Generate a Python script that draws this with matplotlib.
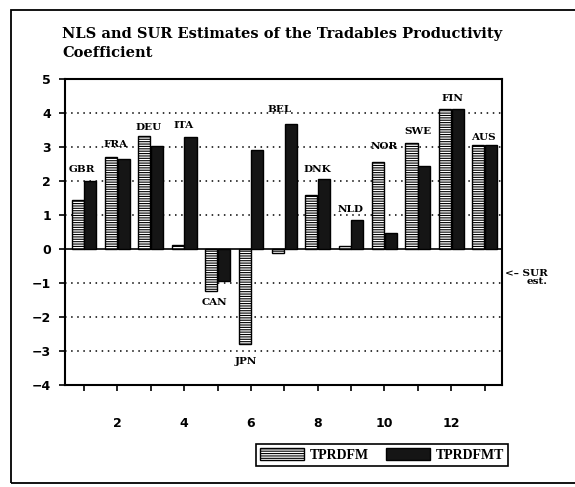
import numpy as np
import matplotlib
matplotlib.use("Agg")
import matplotlib.pyplot as plt
from matplotlib.patches import Patch, Rectangle

# valeurs
countries = ["GBR", "FRA", "DEU", "ITA", "CAN", "JPN", "BEL",
             "DNK", "NLD", "NOR", "SWE", "FIN", "AUS"]
tprdfm = [1.44, 2.73, 3.32, 0.12, -1.23, -2.78, -0.10,
          1.60, 0.10, 2.58, 3.14, 4.12, 3.08]
tprdfmt = [2.02, 2.66, 3.03, 3.29, -0.92, 2.93, 3.69,
           2.06, 0.87, 0.49, 2.46, 4.12, 3.06]
# position (x, y) des étiquettes de pays
label_x = [0.95, 1.93, 2.93, 3.99, 4.92, 5.85, 6.85,
           8.0, 9.0, 9.98, 11.0, 12.04, 12.95]
label_y = [2.35, 3.08, 3.57, 3.64, -1.58, -3.3, 4.1,
           2.35, 1.17, 3.02, 3.46, 4.45, 3.29]

x = np.arange(1, len(countries) + 1)

plt.rcParams['hatch.linewidth'] = 0.8
fig = plt.figure(figsize=(5.75, 4.87), dpi=100)
ax = fig.add_axes([0.113, 0.209, 0.76, 0.628])

w = 0.36
ax.bar(x - 0.19, tprdfm, width=w, facecolor='white', edgecolor='black',
       hatch='-------', linewidth=1, zorder=3)
ax.bar(x + 0.19, tprdfmt, width=w, facecolor='#151515', edgecolor='black',
       linewidth=1, zorder=3)

for yv in [4, 3, 2, 1, -1, -2, -3]:
    ax.axhline(yv, color='black', linestyle=(0, (1, 3)), linewidth=1.1, zorder=1)
ax.axhline(0, color='black', linewidth=1.2, zorder=2)

for c, lx, ly in zip(countries, label_x, label_y):
    ax.text(lx, ly, c, ha='center', va='center', fontsize=7.5,
            fontweight='bold', family='DejaVu Serif', zorder=4)

ax.set_xlim(0.43, 13.52)
ax.set_ylim(-4, 5)
ax.set_yticks(range(-4, 6))
ax.set_yticklabels([str(v).replace('-', '\u2212') for v in range(-4, 6)],
                   fontsize=9, fontweight='bold', family='DejaVu Sans')
ax.set_xticks(range(2, 13, 2))
ax.set_xticks(range(1, 14, 2), minor=True)
ax.set_xticklabels([str(v) for v in range(2, 13, 2)], fontsize=9,
                   fontweight='bold', family='DejaVu Sans')
ax.tick_params(axis='x', which='both', direction='out', length=4, width=1.2, pad=19)
ax.tick_params(axis='y', direction='out', length=4, width=1.2, pad=6)
for s in ax.spines.values():
    s.set_linewidth(1.5)

fig.text(0.108, 0.945, "NLS and SUR Estimates of the Tradables Productivity\nCoefficient",
         ha='left', va='top', fontsize=10.5, fontweight='bold',
         family='DejaVu Serif', linespacing=1.5)

fig.text(0.953, 0.43, "<\u2013 SUR\nest.", ha='right', va='center', fontsize=7.5,
         fontweight='bold', family='DejaVu Serif', multialignment='right',
         linespacing=0.95)

handles = [Patch(facecolor='white', edgecolor='black', hatch='-------', label='TPRDFM'),
           Patch(facecolor='#151515', edgecolor='black', label='TPRDFMT')]
leg = fig.legend(handles=handles, loc='center', bbox_to_anchor=(0.664, 0.066),
                 ncol=2, fancybox=False, edgecolor='black', framealpha=1,
                 prop={'family': 'Liberation Serif', 'weight': 'bold', 'size': 10},
                 handlelength=3.2, handleheight=0.9, handletextpad=0.4,
                 columnspacing=1.2, borderpad=0.3)
leg.get_frame().set_linewidth(1.2)

# cadre extérieur
fig.patches.append(Rectangle((11 / 575, 1 - 483 / 487), 1.1, (483 - 10) / 487,
                             transform=fig.transFigure, fill=False,
                             edgecolor='black', linewidth=1.3, clip_on=False))

fig.savefig("out.png", dpi=100)
